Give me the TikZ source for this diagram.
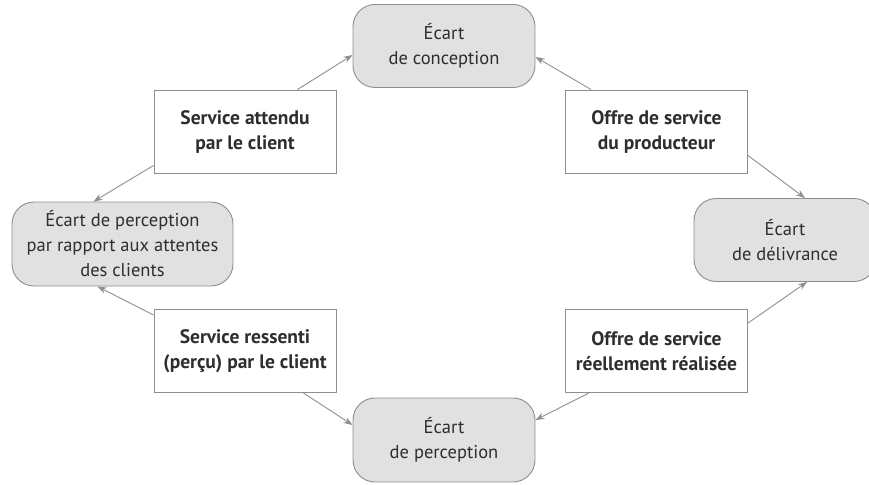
\documentclass[tikz,border=0pt]{standalone}
\usepackage{fontspec}
\setmainfont{PT Sans}
\usetikzlibrary{arrows.meta}
\definecolor{ecartfill}{HTML}{E1E1E1}
\definecolor{edgegray}{HTML}{8E8E8E}
\definecolor{textgray}{HTML}{2E2E2E}
\begin{document}
\begin{tikzpicture}[x=1pt, y=-1pt,
  ecart/.style={draw=edgegray, fill=ecartfill, rounded corners=22pt, align=center, minimum width=182pt, minimum height=83pt, text=textgray, font=\fontsize{18.5}{25}\selectfont, line width=0.9pt, inner sep=2pt},
  service/.style={draw=edgegray, fill=white, align=center, minimum width=182pt, minimum height=83pt, text=textgray, font=\fontsize{19.5}{25}\selectfont\bfseries, line width=0.9pt},
  fleche/.style={draw=edgegray, line width=0.9pt, -{Stealth[length=9pt,width=6.5pt]}}]
\useasboundingbox (0,0) rectangle (869,484);
\node[ecart] (conception) at (444,46) {Écart\\de conception};
\node[service] (attendu) at (245,131.5) {Service attendu\\par le client};
\node[service] (producteur) at (656.5,131.5) {Offre de service\\du producteur};
\node[ecart, minimum width=221pt, minimum height=84pt] (attentes) at (122.5,244) {Écart de perception\\par rapport aux attentes\\des clients};
\node[ecart] (delivrance) at (785,240) {Écart\\de délivrance};
\node[service] (percu) at (245,351) {Service ressenti\\(perçu) par le client};
\node[service] (realisee) at (656.5,351) {Offre de service\\réellement réalisée};
\node[ecart, minimum height=84pt] (perception) at (444,440) {Écart\\de perception};
\draw[fleche] ([xshift=-39pt]attendu.north east) -- ([yshift=-9pt]conception.west);
\draw[fleche] ([xshift=26pt]producteur.north west) -- ([yshift=-11pt]conception.east);
\draw[fleche] ([yshift=18pt]producteur.south east) -- ([xshift=20pt]delivrance.north);
\draw[fleche] ([yshift=-14pt]realisee.north east) -- ([xshift=22pt]delivrance.south);
\draw[fleche] ([xshift=24pt]realisee.south west) -- ([yshift=20pt]perception.east);
\draw[fleche] ([xshift=-33pt]percu.south east) -- ([yshift=15pt]perception.west);
\draw[fleche] ([yshift=-6pt]percu.north west) -- ([xshift=-25pt]attentes.south);
\draw[fleche] ([yshift=8pt]attendu.south west) -- ([xshift=-29pt]attentes.north);
\end{tikzpicture}
\end{document}
